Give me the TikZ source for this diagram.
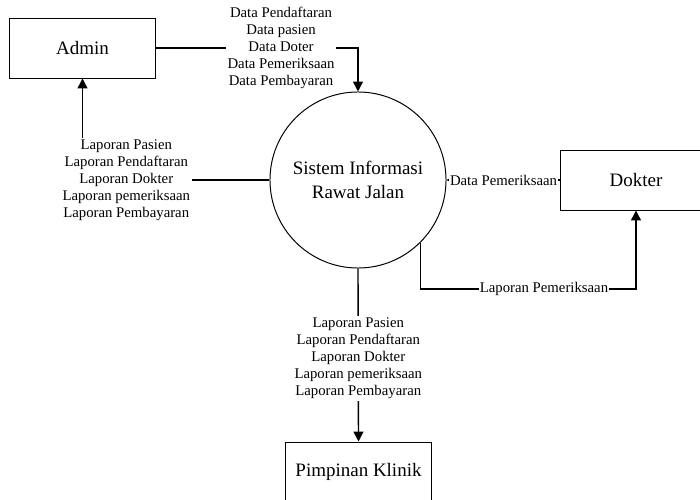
\documentclass[tikz,border=0pt]{standalone}
\usepackage{fontspec}
\setmainfont{Liberation Serif}
\usetikzlibrary{arrows.meta}

\begin{document}
\begin{tikzpicture}[x=0.025cm, y=-0.025cm,
  box/.style={draw, line width=0.7pt, minimum width=3.625cm, minimum height=1.5cm,
    font=\fontsize{13.5}{16}\selectfont},
  lbl/.style={fill=white, inner sep=1.2pt, align=center,
    font=\fontsize{10.5}{12.1}\selectfont},
  flow/.style={line width=1pt, -{Triangle[length=7pt,width=7pt]}}]
\useasboundingbox (0,0) rectangle (700,500);
% сущности
\node [box] (admin) at (82.5,48) {Admin};
\node [box, minimum width=3.75cm] (dokter) at (636,180) {Dokter};
\node [box] (pimpinan) at (358.5,472) {Pimpinan Klinik};
% процесс
\node [draw, circle, line width=0.7pt, minimum size=4.4cm, align=center,
  font=\fontsize{13.5}{17}\selectfont] (sistem) at (358,180) {Sistem Informasi\\Rawat Jalan};
\coordinate (knik) at (420,289);
% потоки
\draw [flow] (admin.east) -| node [lbl, pos=0.31]
  {Data Pendaftaran\\Data pasien\\Data Doter\\Data Pemeriksaan\\Data Pembayaran} (sistem.north);
\draw [flow] (sistem.west) -| node [lbl, pos=0.383]
  {Laporan Pasien\\Laporan Pendaftaran\\Laporan Dokter\\Laporan pemeriksaan\\Laporan Pembayaran} (admin.south);
\draw [line width=1pt, -{Triangle[length=3pt,width=3pt]}] (dokter.west) --
  node [lbl, inner sep=0.8pt] {Data Pemeriksaan} (sistem.east);
\draw [flow] (sistem.-45) |- (knik) -| node [lbl, pos=0.287, inner sep=0.8pt]
  {Laporan Pemeriksaan} (dokter.south);
\draw [flow] (sistem.south) -- node [lbl, pos=0.52]
  {Laporan Pasien\\Laporan Pendaftaran\\Laporan Dokter\\Laporan pemeriksaan\\Laporan Pembayaran} (pimpinan.north);
\end{tikzpicture}
\end{document}
